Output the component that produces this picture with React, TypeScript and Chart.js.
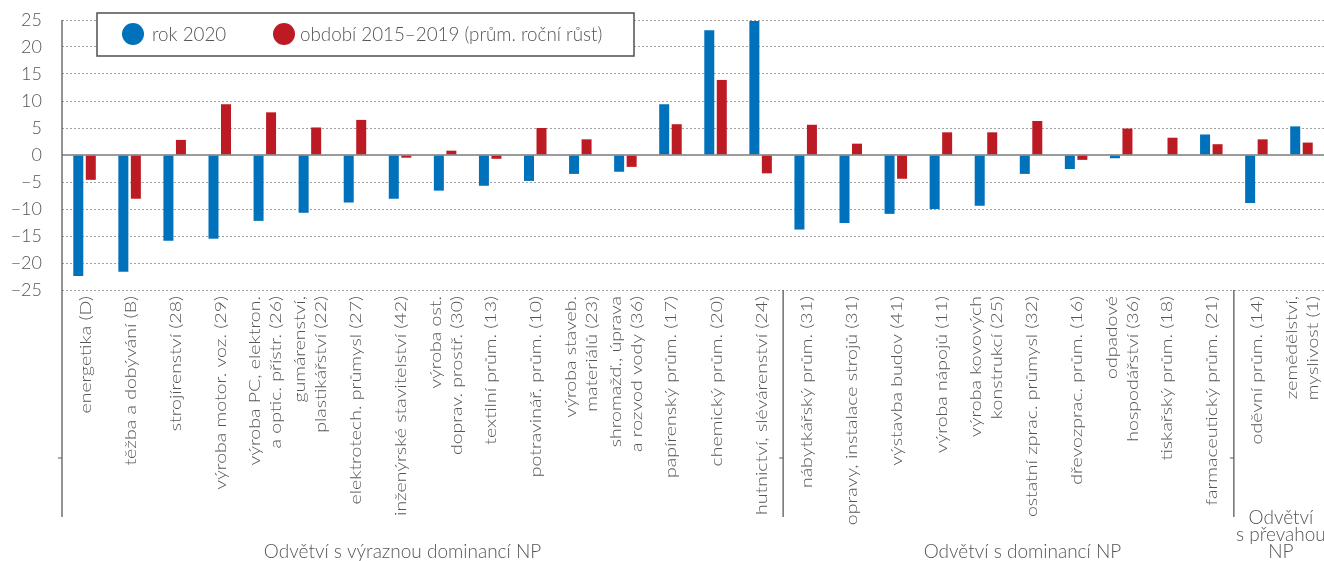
import React, { useEffect, useRef } from 'react';
import { Chart, registerables } from 'chart.js';

Chart.register(...registerables);

// ---------- data ----------
const categories: string[][] = [
  ['energetika (D)'],
  ['těžba a dobývání (B)'],
  ['strojírenství (28)'],
  ['výroba motor. voz. (29)'],
  ['výroba PC, elektron.', 'a optic. přístr. (26)'],
  ['gumárenství,', 'plastikářství (22)'],
  ['elektrotech. průmysl (27)'],
  ['inženýrské stavitelství (42)'],
  ['výroba ost.', 'doprav. prostř. (30)'],
  ['textilní prům. (13)'],
  ['potravinář. prům. (10)'],
  ['výroba staveb.', 'materiálů (23)'],
  ['shromažď., úprava', 'a rozvod vody (36)'],
  ['papírenský prům. (17)'],
  ['chemický prům. (20)'],
  ['hutnictví, slévárenství (24)'],
  ['nábytkářský prům. (31)'],
  ['opravy, instalace strojů (31)'],
  ['výstavba budov (41)'],
  ['výroba nápojů (11)'],
  ['výroba kovových', 'konstrukcí (25)'],
  ['ostatní zprac. průmysl (32)'],
  ['dřevozprac. prům. (16)'],
  ['odpadové', 'hospodářství (36)'],
  ['tiskařský prům. (18)'],
  ['farmaceutický prům. (21)'],
  ['oděvní prům. (14)'],
  ['zemědělství,', 'myslivost (1)'],
];

const values2020: number[] = [
  -22.4, -21.6, -15.9, -15.5, -12.2, -10.7, -8.8, -8.1, -6.6, -5.7, -4.8, -3.5, -3.1, 9.4,
  23.1, 24.8, -13.8, -12.6, -10.9, -10.0, -9.4, -3.5, -2.6, -0.6, 0.1, 3.8, -8.9, 5.3,
];

const values2015_2019: number[] = [
  -4.6, -8.1, 2.8, 9.4, 7.9, 5.1, 6.5, -0.5, 0.8, -0.7, 5.0, 2.9, -2.2, 5.7,
  13.9, -3.4, 5.6, 2.1, -4.4, 4.2, 4.2, 6.3, -0.9, 4.9, 3.2, 2.0, 2.9, 2.3,
];

const seriesNames: string[] = ['rok 2020', 'období 2015–2019 (prům. roční růst)'];

const sectionTitles: string[][] = [
  ['Odvětví s výraznou dominancí NP'],
  ['Odvětví s dominancí NP'],
  ['Odvětví', 's převahou', 'NP'],
];
// index of first category in each section
const sectionStarts: number[] = [0, 16, 26];

const yMin = -25;
const yMax = 25;
const yStep = 5;

// ---------- styles ----------
const BLUE = '#0071BB';
const RED = '#BD1B24';
const TEXT = '#555555';
const FONT = 'Lato, "Open Sans", sans-serif';
const LABEL_BOTTOM = 517;

const overlayPlugin = {
  id: 'overlay',
  afterDatasetsDraw(chart: any) {
    const { ctx, chartArea, scales } = chart;
    const y0 = scales.y.getPixelForValue(0);
    ctx.save();
    ctx.strokeStyle = '#7a7a7a';
    ctx.lineWidth = 1.5;
    ctx.beginPath();
    ctx.moveTo(chartArea.left, y0);
    ctx.lineTo(chartArea.right, y0);
    ctx.stroke();
    ctx.restore();
  },
  afterDraw(chart: any) {
    const { ctx, chartArea, scales } = chart;
    const xs = scales.x;
    const half = (xs.getPixelForTick(1) - xs.getPixelForTick(0)) / 2;
    ctx.save();

    // vertical axis line
    ctx.strokeStyle = '#5a5a5a';
    ctx.lineWidth = 1.3;
    ctx.beginPath();
    ctx.moveTo(chartArea.left, chartArea.top);
    ctx.lineTo(chartArea.left, LABEL_BOTTOM);
    ctx.stroke();

    // section separators
    const sepXs: number[] = [chartArea.left];
    sectionStarts.slice(1).forEach((i) => {
      const px = xs.getPixelForTick(i) - half;
      sepXs.push(px);
      ctx.beginPath();
      ctx.moveTo(px, chartArea.bottom);
      ctx.lineTo(px, LABEL_BOTTOM);
      ctx.stroke();
    });
    // tiny ticks on the separators
    ctx.lineWidth = 1;
    sepXs.forEach((px) => {
      ctx.beginPath();
      ctx.moveTo(px - 4, 458);
      ctx.lineTo(px, 458);
      ctx.stroke();
    });

    // category labels (rotated)
    ctx.fillStyle = TEXT;
    ctx.font = `300 16px ${FONT}`;
    ctx.textAlign = 'right';
    ctx.textBaseline = 'alphabetic';
    const L = 21;
    categories.forEach((lines, i) => {
      const px = xs.getPixelForTick(i);
      const n = lines.length;
      lines.forEach((t, j) => {
        const bx = px + 6 + (j - (n - 1) / 2) * L;
        ctx.save();
        ctx.translate(bx, chartArea.bottom + 6);
        ctx.rotate(-Math.PI / 2);
        ctx.scale(1.22, 1);
        ctx.fillText(t, 0, 0);
        ctx.restore();
      });
    });

    // section titles
    ctx.font = `300 19px ${FONT}`;
    ctx.textAlign = 'center';
    const offsets = [-20, 14, 2];
    sectionTitles.forEach((lines, s) => {
      const start = sectionStarts[s];
      const end = s + 1 < sectionStarts.length ? sectionStarts[s + 1] : categories.length;
      const left = xs.getPixelForTick(start) - half;
      const right = xs.getPixelForTick(end - 1) + half;
      const cx = (left + right) / 2 + offsets[s];
      const n = lines.length;
      lines.forEach((t, j) => {
        ctx.fillText(t, cx, 558 - (n - 1 - j) * 17);
      });
    });

    // legend
    const lx = chartArea.left + 35;
    const ly = chartArea.top - 7;
    const lw = 537;
    const lh = 43;
    ctx.fillStyle = '#ffffff';
    ctx.fillRect(lx, ly, lw, lh);
    ctx.strokeStyle = '#5a5a5a';
    ctx.lineWidth = 1.6;
    ctx.strokeRect(lx, ly, lw, lh);
    const cy = ly + 21;
    const items = [
      { color: BLUE, cx: lx + 36, tx: lx + 55 },
      { color: RED, cx: lx + 187, tx: lx + 203 },
    ];
    ctx.font = `300 18.8px ${FONT}`;
    ctx.textAlign = 'left';
    ctx.textBaseline = 'alphabetic';
    items.forEach((it, k) => {
      ctx.fillStyle = it.color;
      ctx.beginPath();
      ctx.arc(it.cx, cy, 11, 0, Math.PI * 2);
      ctx.fill();
      ctx.fillStyle = TEXT;
      ctx.fillText(seriesNames[k], it.tx, cy + 7);
    });

    ctx.restore();
  },
};

export default function App() {
  const canvasRef = useRef<HTMLCanvasElement | null>(null);

  useEffect(() => {
    document.body.style.margin = '0';
    const canvas = canvasRef.current;
    if (!canvas) return;
    const chart = new Chart(canvas, {
      type: 'bar',
      data: {
        labels: categories.map((c) => c.join(' ')),
        datasets: [
          {
            label: seriesNames[0],
            data: values2020,
            backgroundColor: BLUE,
            borderWidth: 0,
            categoryPercentage: 0.555,
            barPercentage: 0.8,
          },
          {
            label: seriesNames[1],
            data: values2015_2019,
            backgroundColor: RED,
            borderWidth: 0,
            categoryPercentage: 0.555,
            barPercentage: 0.8,
          },
        ],
      },
      options: {
        responsive: true,
        maintainAspectRatio: false,
        animation: false,
        events: [],
        layout: { padding: { top: 20, right: 0, left: 0, bottom: 0 } },
        plugins: {
          legend: { display: false },
          tooltip: { enabled: false },
          title: { display: false },
        },
        scales: {
          x: {
            type: 'category',
            grid: { display: false },
            border: { display: false },
            ticks: { display: false },
            afterFit: (s: any) => {
              s.height = 271;
              s.paddingLeft = 0;
              s.paddingRight = 0;
            },
          },
          y: {
            min: yMin,
            max: yMax,
            grid: {
              drawTicks: false,
              color: (c: any) => (c.tick && c.tick.value === 0 ? 'rgba(0,0,0,0)' : '#a0a0a0'),
              lineWidth: 1,
            },
            border: { display: false, dash: [2, 2] },
            ticks: {
              stepSize: yStep,
              padding: 20,
              color: TEXT,
              font: { family: FONT, size: 18, weight: '300' },
              callback: (v: any) => (Number(v) < 0 ? '\u2212' + Math.abs(Number(v)) : String(v)),
            },
            afterFit: (s: any) => {
              s.width = 62;
              s.paddingTop = 0;
              s.paddingBottom = 0;
            },
          },
        },
      },
      plugins: [overlayPlugin],
    } as any);
    return () => chart.destroy();
  }, []);

  return (
    <div style={{ position: 'fixed', left: 0, top: 0, width: 1324, height: 561, background: '#fff' }}>
      <canvas ref={canvasRef} />
    </div>
  );
}
